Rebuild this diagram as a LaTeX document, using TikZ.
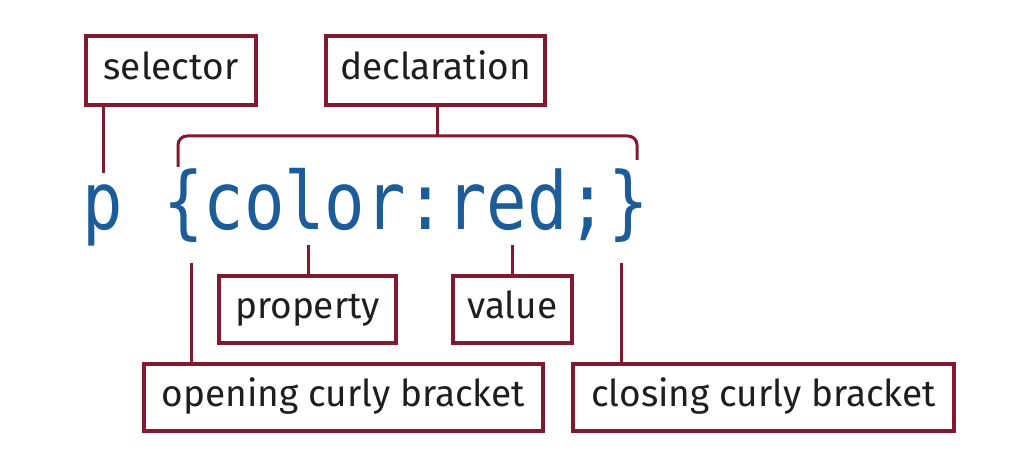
\documentclass[tikz,border=0pt]{standalone}
\usepackage{fontspec}
\setmainfont{Fira Sans}
\newfontfamily\codefont[FakeStretch=0.84]{DejaVu Sans Mono}
\definecolor{boxred}{RGB}{132,24,46}
\definecolor{codeblue}{RGB}{28,92,152}
\definecolor{labelink}{RGB}{30,30,30}
\tikzset{
  lbl/.style={draw=boxred, line width=4pt, fill=white, inner sep=0pt,
    text=labelink, font=\fontsize{37}{40}\selectfont,
    text height=24pt, text depth=6pt, minimum height=#1},
  lbl/.default=69pt,
  conn/.style={draw=boxred, line width=3pt},
}
\begin{document}
\begin{tikzpicture}[x=1pt,y=-1pt]
\useasboundingbox[fill=white] (0,0) rectangle (1022,462);

\node[lbl, minimum width=170pt] (selector) at (171,70.5) {selector};
\node[lbl, minimum width=219pt] (declaration) at (435.5,70.5) {declaration};
\node[lbl=67pt, minimum width=177pt] (property) at (307.5,309.5) {property};
\node[lbl=67pt, minimum width=119pt] (value) at (512.5,309.5) {value};
\node[lbl=67pt, minimum width=399pt] (opening) at (343.5,397.5) {opening curly bracket};
\node[lbl=67pt, minimum width=381pt] (closing) at (763.5,397.5) {closing curly bracket};

\node[anchor=base west, inner sep=0pt, text=codeblue,
  font=\codefont\fontsize{80}{80}\selectfont] (code) at (82,230) {p \{color:red;\}};

\coordinate (selend) at (103,173);
\coordinate (brtop) at (437,136);
\coordinate (brL) at (178,167);
\coordinate (brR) at (637,160);
\coordinate (propend) at (308,245);
\coordinate (valend) at (512,245);
\coordinate (openend) at (191,263);
\coordinate (closeend) at (621,263);

\draw[conn] (selector.south -| selend) -- (selend);
\draw[conn] (declaration.south -| brtop) -- (brtop);
\draw[conn, rounded corners=9pt] (brL) |- (brtop) -| (brR);
\draw[conn] (property.north -| propend) -- (propend);
\draw[conn] (value.north -| valend) -- (valend);
\draw[conn] (opening.north -| openend) -- (openend);
\draw[conn] (closing.north -| closeend) -- (closeend);
\end{tikzpicture}
\end{document}
